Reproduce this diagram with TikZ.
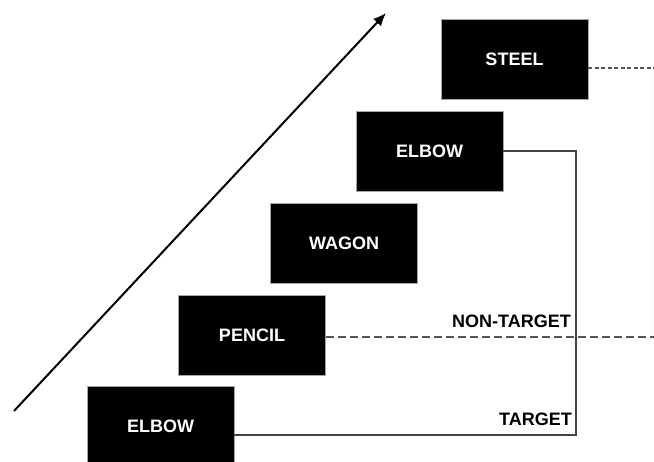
\documentclass[tikz,border=0pt]{standalone}
\usepackage{fontspec}
\setmainfont{Liberation Sans}
\usetikzlibrary{arrows.meta}
\definecolor{lineg}{HTML}{444444}
\definecolor{dashg}{HTML}{555555}
\definecolor{faintg}{HTML}{E4E4E4}
\tikzset{
  wordbox/.style={draw=gray!70, line width=0.6pt, fill=black, text=white,
    minimum width=147pt, minimum height=80pt, inner sep=0pt,
    font=\fontsize{18}{20}\selectfont\bfseries},
  tag/.style={font=\fontsize{18}{20}\selectfont\bfseries, inner sep=0pt},
  link/.style={draw=lineg, line width=1.3pt},
  longdash/.style={draw=dashg, line width=1.3pt, dash pattern=on 8pt off 4pt},
  shortdash/.style={draw=dashg, line width=1.3pt, dash pattern=on 4pt off 2.5pt},
}
\begin{document}
\begin{tikzpicture}[x=1pt, y=-1pt]
\useasboundingbox[fill=white] (0,0) rectangle (654,462);

% rising arrow
\coordinate (a0) at (14,411);
\coordinate (a1) at (386,13);
\draw[line width=2pt, -{Latex[length=13pt,width=11pt]}] (a0) -- (a1);

% word sequence
\node[wordbox] (e1) at (160.5,426) {ELBOW};
\node[wordbox] (p)  at (252,335) {PENCIL};
\node[wordbox] (w)  at (344,243) {WAGON};
\node[wordbox] (e2) at (429.5,151) {ELBOW};
\node[wordbox] (s)  at (514.5,59) {STEEL};

% target link
\coordinate (tc) at (576,435);
\draw[link] (e2.east) -| (tc) -- (tc -| e1.east);

% non-target lines
\coordinate (nt) at (654,337);
\draw[longdash] (p.east |- nt) -- (nt);
\coordinate (st) at (654,68);
\draw[shortdash] (s.east |- st) -- (st);
\coordinate (v0) at (652,70);
\coordinate (v1) at (652,333);
\draw[draw=faintg, line width=1pt, dotted] (v0) -- (v1);

% labels
\node[tag, anchor=base east] (lnt) at (571,328) {NON-TARGET};
\node[tag, anchor=base east] (lt)  at (572,426) {TARGET};
\end{tikzpicture}
\end{document}
